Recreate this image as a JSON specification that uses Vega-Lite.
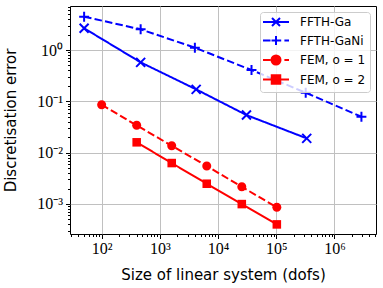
{
  "$schema": "https://vega.github.io/schema/vega-lite/v6.json",
  "width": 306,
  "height": 228,
  "autosize": {"type": "none"},
  "padding": {"left": 70, "top": 6, "right": 7, "bottom": 54},
  "background": "white",
  "data": {
    "values": [
      {"series": "FFTH-Ga", "dofs": 50, "error": 2.65},
      {"series": "FFTH-Ga", "dofs": 468, "error": 0.575},
      {"series": "FFTH-Ga", "dofs": 4210, "error": 0.171},
      {"series": "FFTH-Ga", "dofs": 30800, "error": 0.054},
      {"series": "FFTH-Ga", "dofs": 334000, "error": 0.019},
      {"series": "FFTH-GaNi", "dofs": 50, "error": 4.46},
      {"series": "FFTH-GaNi", "dofs": 468, "error": 2.53},
      {"series": "FFTH-GaNi", "dofs": 4000, "error": 1.11},
      {"series": "FFTH-GaNi", "dofs": 37600, "error": 0.407},
      {"series": "FFTH-GaNi", "dofs": 321000, "error": 0.147},
      {"series": "FFTH-GaNi", "dofs": 2910000, "error": 0.050},
      {"series": "FEM, o = 1", "dofs": 100, "error": 0.0859},
      {"series": "FEM, o = 1", "dofs": 400, "error": 0.034},
      {"series": "FEM, o = 1", "dofs": 1600, "error": 0.0136},
      {"series": "FEM, o = 1", "dofs": 6400, "error": 0.00548},
      {"series": "FEM, o = 1", "dofs": 25600, "error": 0.00216},
      {"series": "FEM, o = 1", "dofs": 102400, "error": 0.00086},
      {"series": "FEM, o = 2", "dofs": 400, "error": 0.0159},
      {"series": "FEM, o = 2", "dofs": 1600, "error": 0.00627},
      {"series": "FEM, o = 2", "dofs": 6400, "error": 0.00248},
      {"series": "FEM, o = 2", "dofs": 25600, "error": 0.000995},
      {"series": "FEM, o = 2", "dofs": 102400, "error": 0.0004}
    ]
  },
  "encoding": {
    "x": {
      "field": "dofs", "type": "quantitative",
      "scale": {"type": "log", "domain": [28.6, 5180000], "nice": false},
      "axis": {
        "title": "Size of linear system (dofs)",
        "values": [30,40,50,60,70,80,90,100,200,300,400,500,600,700,800,900,1000,2000,3000,4000,5000,6000,7000,8000,9000,10000,20000,30000,40000,50000,60000,70000,80000,90000,100000,200000,300000,400000,500000,600000,700000,800000,900000,1000000,2000000,3000000,4000000,5000000],
        "labelExpr": "abs(log(datum.value)/LN10 - round(log(datum.value)/LN10)) < 0.001 ? '10' + ['⁰','¹','²','³','⁴','⁵','⁶','⁷','⁸','⁹'][round(log(datum.value)/LN10)] : ''",
        "gridOpacity": {"condition": {"test": "abs(log(datum.value)/LN10 - round(log(datum.value)/LN10)) < 0.001", "value": 1}, "value": 0},
        "tickSize": {"condition": {"test": "abs(log(datum.value)/LN10 - round(log(datum.value)/LN10)) < 0.001", "value": 4.5}, "value": 2.5},
        "labelPadding": 2,
        "titlePadding": 11
      }
    },
    "y": {
      "field": "error", "type": "quantitative",
      "scale": {"type": "log", "domain": [0.00026, 7.2], "nice": false},
      "axis": {
        "title": "Discretisation error",
        "values": [0.0003,0.0004,0.0005,0.0006,0.0007,0.0008,0.0009,0.001,0.002,0.003,0.004,0.005,0.006,0.007,0.008,0.009,0.01,0.02,0.03,0.04,0.05,0.06,0.07,0.08,0.09,0.1,0.2,0.3,0.4,0.5,0.6,0.7,0.8,0.9,1,2,3,4,5,6,7],
        "labelExpr": "abs(log(datum.value)/LN10 - round(log(datum.value)/LN10)) < 0.001 ? '10' + (round(log(datum.value)/LN10) < 0 ? '⁻' : '') + ['⁰','¹','²','³','⁴','⁵','⁶','⁷','⁸','⁹'][abs(round(log(datum.value)/LN10))] : ''",
        "gridOpacity": {"condition": {"test": "abs(log(datum.value)/LN10 - round(log(datum.value)/LN10)) < 0.001", "value": 1}, "value": 0},
        "tickSize": {"condition": {"test": "abs(log(datum.value)/LN10 - round(log(datum.value)/LN10)) < 0.001", "value": 4.5}, "value": 2.5},
        "labelPadding": 3,
        "titlePadding": 18
      }
    }
  },
  "layer": [
    {
      "mark": {"type": "line", "strokeWidth": 2},
      "encoding": {
        "color": {"field": "series", "type": "nominal", "scale": {"range": ["#ff0000", "#ff0000", "#0000ff", "#0000ff"]}, "legend": null},
        "strokeDash": {"field": "series", "type": "nominal", "scale": {"range": [[7.5, 3.2], [1, 0], [1, 0], [7.5, 3.2]]}, "legend": null}
      }
    },
    {
      "transform": [{"filter": "datum.series === 'FFTH-Ga'"}],
      "mark": {"type": "point", "filled": false, "opacity": 1, "size": 81, "strokeWidth": 2, "shape": "M-1,-1L1,1M-1,1L1,-1"},
      "encoding": {"color": {"field": "series", "type": "nominal", "legend": null}}
    },
    {
      "transform": [{"filter": "datum.series === 'FFTH-GaNi'"}],
      "mark": {"type": "point", "filled": false, "opacity": 1, "size": 81, "strokeWidth": 2, "shape": "M-1.1,0L1.1,0M0,-1.1L0,1.1"},
      "encoding": {"color": {"field": "series", "type": "nominal", "legend": null}}
    },
    {
      "transform": [{"filter": "datum.series === 'FEM, o = 1'"}],
      "mark": {"type": "point", "filled": true, "opacity": 1, "size": 81, "strokeWidth": 0, "shape": "M-1,0A1,1 0 1,1 1,0A1,1 0 1,1 -1,0Z"},
      "encoding": {"color": {"field": "series", "type": "nominal", "legend": null}}
    },
    {
      "transform": [{"filter": "datum.series === 'FEM, o = 2'"}],
      "mark": {"type": "point", "filled": true, "opacity": 1, "size": 81, "strokeWidth": 0, "shape": "M-0.95,-0.95L0.95,-0.95L0.95,0.95L-0.95,0.95Z"},
      "encoding": {"color": {"field": "series", "type": "nominal", "legend": null}}
    },
    {
      "transform": [{"filter": "false"}],
      "mark": {"type": "point", "opacity": 1, "size": 100, "strokeWidth": 2},
      "encoding": {
        "fill": {"field": "series", "type": "nominal", "scale": {"domain": ["FFTH-Ga", "FFTH-GaNi", "FEM, o = 1", "FEM, o = 2"], "range": ["#0000ff", "#0000ff", "#ff0000", "#ff0000"]}, "legend": {"title": null, "strokeColor": "#cccccc", "fillColor": "rgba(255,255,255,0.8)", "cornerRadius": 3, "padding": 4}},
        "stroke": {"field": "series", "type": "nominal", "scale": {"domain": ["FFTH-Ga", "FFTH-GaNi", "FEM, o = 1", "FEM, o = 2"], "range": ["#0000ff", "#0000ff", "#ff0000", "#ff0000"]}, "legend": {"title": null, "strokeColor": "#cccccc", "fillColor": "rgba(255,255,255,0.8)", "cornerRadius": 3, "padding": 4}},
        "shape": {"field": "series", "type": "nominal", "scale": {"domain": ["FFTH-Ga", "FFTH-GaNi", "FEM, o = 1", "FEM, o = 2"], "range": [
          "M-2.6,0L2.6,0M-0.8,-0.8L0.8,0.8M-0.8,0.8L0.8,-0.8",
          "M-2.6,0L-1.1,0M-0.46,0L1.04,0M1.68,0L2.6,0M-0.9,0L0.9,0M0,-0.9L0,0.9",
          "M-2.6,0L-1.1,0M-0.46,0L1.04,0M1.68,0L2.6,0M-0.9,0A0.9,0.9 0 1,1 0.9,0A0.9,0.9 0 1,1 -0.9,0Z",
          "M-2.6,0L2.6,0M-0.85,-0.85L0.85,-0.85L0.85,0.85L-0.85,0.85Z"
        ]}, "legend": {"title": null, "strokeColor": "#cccccc", "fillColor": "rgba(255,255,255,0.8)", "cornerRadius": 3, "padding": 4}}
      }
    }
  ],
  "config": {
    "view": {"stroke": "black", "strokeWidth": 1},
    "axis": {
      "domain": false,
      "grid": true,
      "gridColor": "#c0c0c0",
      "gridWidth": 1,
      "tickColor": "black",
      "tickWidth": 1,
      "labelColor": "black",
      "titleColor": "black",
      "labelFont": "Liberation Serif",
      "labelFontSize": 16,
      "titleFont": "DejaVu Sans",
      "titleFontSize": 15,
      "titleFontWeight": "normal",
      "labelOverlap": false,
      "labelBound": false,
      "labelFlush": false
    },
    "legend": {
      "orient": "top-right",
      "offset": 6,
      "labelFont": "DejaVu Sans",
      "labelFontSize": 12,
      "labelColor": "black",
      "symbolSize": 100,
      "symbolStrokeWidth": 2,
      "rowPadding": 1.5,
      "symbolOffset": 6,
      "labelOffset": 18
    }
  }
}
